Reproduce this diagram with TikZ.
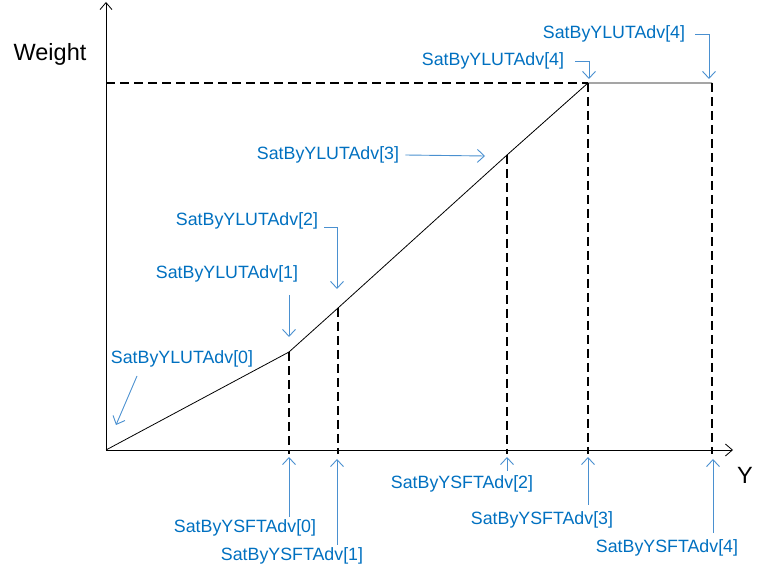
\documentclass[tikz,border=0pt]{standalone}
\usepackage{fontspec}
\setmainfont{Liberation Sans}
\usetikzlibrary{arrows.meta, calc}
\definecolor{lblblue}{HTML}{0070C0}
\definecolor{ptrblue}{HTML}{4A90D0}

\begin{document}
\begin{tikzpicture}[x=1pt, y=-1pt,
    axis/.style={-{Straight Barb[length=7pt,width=12pt]}, line width=0.8pt},
    guide/.style={dash pattern=on 9pt off 5pt, line width=1.6pt},
    lbl/.style={text=lblblue, inner sep=0pt, font=\fontsize{17.8}{20}\selectfont},
    pointer/.style={ptrblue, line width=0.9pt, -{Straight Barb[length=7pt,width=13pt]}}]
    \useasboundingbox (0,0) rectangle (764,577);

    % axes
    \coordinate (o) at (106,450);
    \coordinate (ytop) at (106,2);
    \coordinate (xend) at (733,450);
    \draw[axis] (o) -- (ytop);
    \draw[axis] (o) -- (xend);
    \node[font=\fontsize{23.5}{26}\selectfont] (weight) at (50,54) {Weight};
    \node[font=\fontsize{23.5}{26}\selectfont] (ylab) at (745,475) {Y};

    % curve points
    \coordinate (k1) at (289,352);
    \coordinate (k2) at (338,308);
    \coordinate (k3) at (507,155);
    \coordinate (k4) at (588,83);
    \coordinate (k5) at (712,83);
    \coordinate (w4) at (106,83);

    \draw[line width=0.8pt] (o) -- (k1) -- (k2) -- (k3) -- (k4) -- (k5);
    \draw[guide] (w4) -- (k4);
    \foreach \k in {k1,k2,k3,k4,k5}
        \draw[guide] (\k) -- ($(\k |- o)+(0,4)$);

    % LUT labels
    \node[lbl] (lut4t) at (614,34) {SatByYLUTAdv[4]};
    \node[lbl] (lut4b) at (493,61) {SatByYLUTAdv[4]};
    \node[lbl] (lut3) at (328,155) {SatByYLUTAdv[3]};
    \node[lbl] (lut2) at (247,221) {SatByYLUTAdv[2]};
    \node[lbl] (lut1) at (227,274) {SatByYLUTAdv[1]};
    \node[lbl] (lut0) at (182,359) {SatByYLUTAdv[0]};

    \coordinate (a4t) at (709,79);
    \coordinate (a4b) at (589,79);
    \coordinate (a3) at (485,156);
    \coordinate (a2) at (337,289);
    \coordinate (s1) at (289,295);
    \coordinate (a1) at (289,337);
    \coordinate (s0) at (137,376);
    \coordinate (a0) at (116,425);

    \draw[pointer] ([xshift=10pt]lut4t.east) -| (a4t);
    \draw[pointer] ([xshift=11pt]lut4b.east) -| (a4b);
    \draw[pointer] ([xshift=6pt]lut3.east) -- (a3);
    \draw[pointer] ([xshift=6pt,yshift=-6pt]lut2.east) -| (a2);
    \draw[pointer] (s1) -- (a1);
    \draw[pointer] (s0) -- (a0);

    % SFT labels
    \node[lbl] (sft0) at (245,528) {SatByYSFTAdv[0]};
    \node[lbl] (sft1) at (292,556) {SatByYSFTAdv[1]};
    \node[lbl] (sft2) at (462,484) {SatByYSFTAdv[2]};
    \node[lbl] (sft3) at (542,520) {SatByYSFTAdv[3]};
    \node[lbl] (sft4) at (667,548) {SatByYSFTAdv[4]};

    \coordinate (b0) at (289,517);  \coordinate (t0) at (289,457);
    \coordinate (b1) at (337,545);  \coordinate (t1) at (337,459);
    \coordinate (b2) at (507,471);  \coordinate (t2) at (507,457);
    \coordinate (b3) at (588,505);  \coordinate (t3) at (588,457);
    \coordinate (b4) at (713,533);  \coordinate (t4) at (713,459);
    \foreach \i in {0,...,4}
        \draw[pointer] (b\i) -- (t\i);
\end{tikzpicture}
\end{document}
